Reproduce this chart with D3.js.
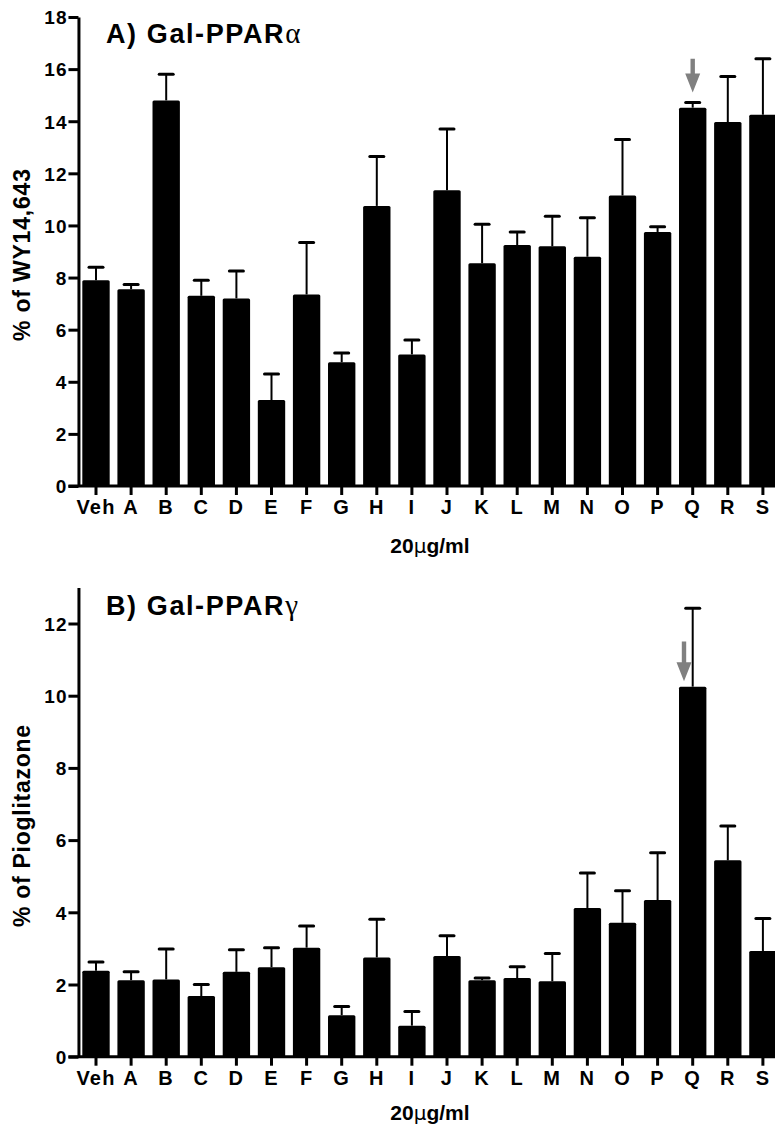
<!DOCTYPE html>
<html>
<head>
<meta charset="utf-8">
<script src="https://cdn.jsdelivr.net/npm/d3@7"></script>
<style>
  html, body { margin: 0; padding: 0; background: #fff; }
  svg { display: block; }
  text { font-family: "Liberation Sans", Arial, sans-serif; font-weight: bold; fill: #000; }
</style>
</head>
<body>
<svg id="chart" width="775" height="1129"></svg>
<script>
// ---- data ----
const categories = ["Veh","A","B","C","D","E","F","G","H","I","J","K","L","M","N","O","P","Q","R","S"];

// Panel A: Gal-PPARα, % of WY14,643 (mean, SEM)
const alphaMean = [7.9, 7.55, 14.8, 7.3, 7.2, 3.3, 7.35, 4.75, 10.75, 5.05, 11.35, 8.55, 9.25, 9.2, 8.8, 11.15, 9.75, 14.52, 13.97, 14.25];
const alphaSem  = [0.5, 0.18, 1.0, 0.6, 1.05, 1.0, 2.0, 0.35, 1.9, 0.55, 2.35, 1.5, 0.5, 1.15, 1.5, 2.15, 0.2, 0.2, 1.75, 2.15];

// Panel B: Gal-PPARγ, % of Pioglitazone (mean, SEM)
const gammaMean = [2.38, 2.12, 2.14, 1.68, 2.35, 2.48, 3.02, 1.15, 2.75, 0.86, 2.79, 2.12, 2.18, 2.09, 4.12, 3.71, 4.34, 10.25, 5.44, 2.93];
const gammaSem  = [0.24, 0.23, 0.84, 0.32, 0.61, 0.54, 0.6, 0.24, 1.06, 0.39, 0.56, 0.06, 0.31, 0.77, 0.97, 0.89, 1.31, 2.17, 0.95, 0.9];

const alphaTicks = [0, 2, 4, 6, 8, 10, 12, 14, 16, 18];
const gammaTicks = [0, 2, 4, 6, 8, 10, 12];

const arrowCategory = "Q";
const alphaArrow = [16.4, 15.1];   // tail, tip (data units)
const gammaArrow = [11.5, 10.4];

const svg = d3.select("#chart");

const x = d3.scaleBand()
  .domain(categories)
  .range([78.45, 780.45])
  .paddingInner(0.22)
  .paddingOuter(0.11);

function panel(cfg) {
  const g = svg.append("g");
  const y = d3.scaleLinear().domain(cfg.domain).range(cfg.range);
  const data = categories.map((c, i) => ({ c, m: cfg.mean[i], e: cfg.sem[i] }));

  // error bars (upper only)
  g.selectAll("line.err").data(data).join("line")
    .attr("class", "err")
    .attr("x1", d => x(d.c) + x.bandwidth() / 2)
    .attr("x2", d => x(d.c) + x.bandwidth() / 2)
    .attr("y1", d => y(d.m))
    .attr("y2", d => y(d.m + d.e))
    .attr("stroke", "#000").attr("stroke-width", 2);
  g.selectAll("line.cap").data(data).join("line")
    .attr("class", "cap")
    .attr("x1", d => x(d.c) + x.bandwidth() / 2 - 7)
    .attr("x2", d => x(d.c) + x.bandwidth() / 2 + 7)
    .attr("y1", d => y(d.m + d.e))
    .attr("y2", d => y(d.m + d.e))
    .attr("stroke", "#000").attr("stroke-width", 3).attr("stroke-linecap", "round");

  // bars
  g.selectAll("rect.bar").data(data).join("rect")
    .attr("class", "bar")
    .attr("x", d => x(d.c))
    .attr("width", x.bandwidth())
    .attr("y", d => y(d.m))
    .attr("height", d => y(0) - y(d.m))
    .attr("rx", 1.5)
    .attr("fill", "#000");

  // y axis
  const ya = g.append("g")
    .attr("transform", `translate(${x.range()[0]},0)`)
    .call(d3.axisLeft(y).tickValues(cfg.ticks).tickSize(10).tickSizeOuter(0).tickPadding(1));
  ya.select(".domain").attr("stroke", "#000").attr("stroke-width", 3);
  ya.selectAll(".tick line").attr("stroke", "#000").attr("stroke-width", 3);
  ya.selectAll(".tick text")
    .attr("font-family", "'Liberation Sans', Arial, sans-serif")
    .attr("font-weight", "bold")
    .attr("font-size", 19)
    .attr("letter-spacing", "1px")
    .attr("fill", "#000")
    .attr("dy", "0.36em");

  // x axis
  const xa = g.append("g")
    .attr("transform", `translate(0,${y(0)})`)
    .call(d3.axisBottom(x).tickSize(9).tickSizeOuter(0).tickPadding(5));
  xa.select(".domain").attr("d", `M${x.range()[0] - 10},0H775`).attr("stroke", "#000").attr("stroke-width", 3);
  xa.selectAll(".tick line").attr("stroke", "#000").attr("stroke-width", 3);
  xa.selectAll(".tick text")
    .attr("font-family", "'Liberation Sans', Arial, sans-serif")
    .attr("font-weight", "bold")
    .attr("font-size", 20)
    .attr("letter-spacing", "1.2px")
    .attr("fill", "#000")
    .attr("dy", "0.72em");

  // x axis title
  const xt = g.append("text")
    .attr("x", 430).attr("y", cfg.xTitleY)
    .attr("text-anchor", "middle")
    .attr("font-size", 21);
  xt.append("tspan").text("20");
  xt.append("tspan").attr("font-family", "'DejaVu Sans', sans-serif").attr("font-weight", "normal").attr("font-size", 20).text("µ");
  xt.append("tspan").text("g/ml");

  // y axis title
  g.append("text")
    .attr("transform", `translate(${cfg.yTitleX},${cfg.yTitleCY}) rotate(-90)`)
    .attr("text-anchor", "middle")
    .attr("font-size", 23)
    .attr("textLength", cfg.yTitleLen)
    .attr("lengthAdjust", "spacing")
    .text(cfg.yTitle);

  // panel title
  const t = g.append("text")
    .attr("x", 106).attr("y", cfg.titleY)
    .attr("font-size", 27);
  t.append("tspan").attr("letter-spacing", "1.6px").text(cfg.title);
  t.append("tspan").attr("font-family", "'Liberation Serif', serif").attr("font-weight", "normal").attr("font-size", 29).text(cfg.greek);

  // arrow annotation
  const ax = x(arrowCategory) + x.bandwidth() / 2 + cfg.arrowDx;
  const tail = y(cfg.arrow[0]), tip = y(cfg.arrow[1]);
  const headLen = 19, headW = 7.5, shaftW = 2.2;
  g.append("path")
    .attr("d", `M${ax - shaftW},${tail} L${ax + shaftW},${tail} L${ax + shaftW},${tip - headLen} L${ax + headW},${tip - headLen} L${ax},${tip} L${ax - headW},${tip - headLen} L${ax - shaftW},${tip - headLen} Z`)
    .attr("fill", "#808080");
}

panel({
  domain: [0, 18], range: [486, 17],
  mean: alphaMean, sem: alphaSem, ticks: alphaTicks,
  title: "A) Gal-PPAR", greek: "α", titleY: 43,
  yTitle: "% of WY14,643", yTitleX: 30, yTitleCY: 255, yTitleLen: 172,
  xTitleY: 553,
  arrow: alphaArrow, arrowDx: 0
});

panel({
  domain: [0, 13], range: [1056.7, 587.4],
  mean: gammaMean, sem: gammaSem, ticks: gammaTicks,
  title: "B) Gal-PPAR", greek: "γ", titleY: 615,
  yTitle: "% of Pioglitazone", yTitleX: 30, yTitleCY: 826, yTitleLen: 202,
  xTitleY: 1120,
  arrow: gammaArrow, arrowDx: -8.7
});
</script>
</body>
</html>
